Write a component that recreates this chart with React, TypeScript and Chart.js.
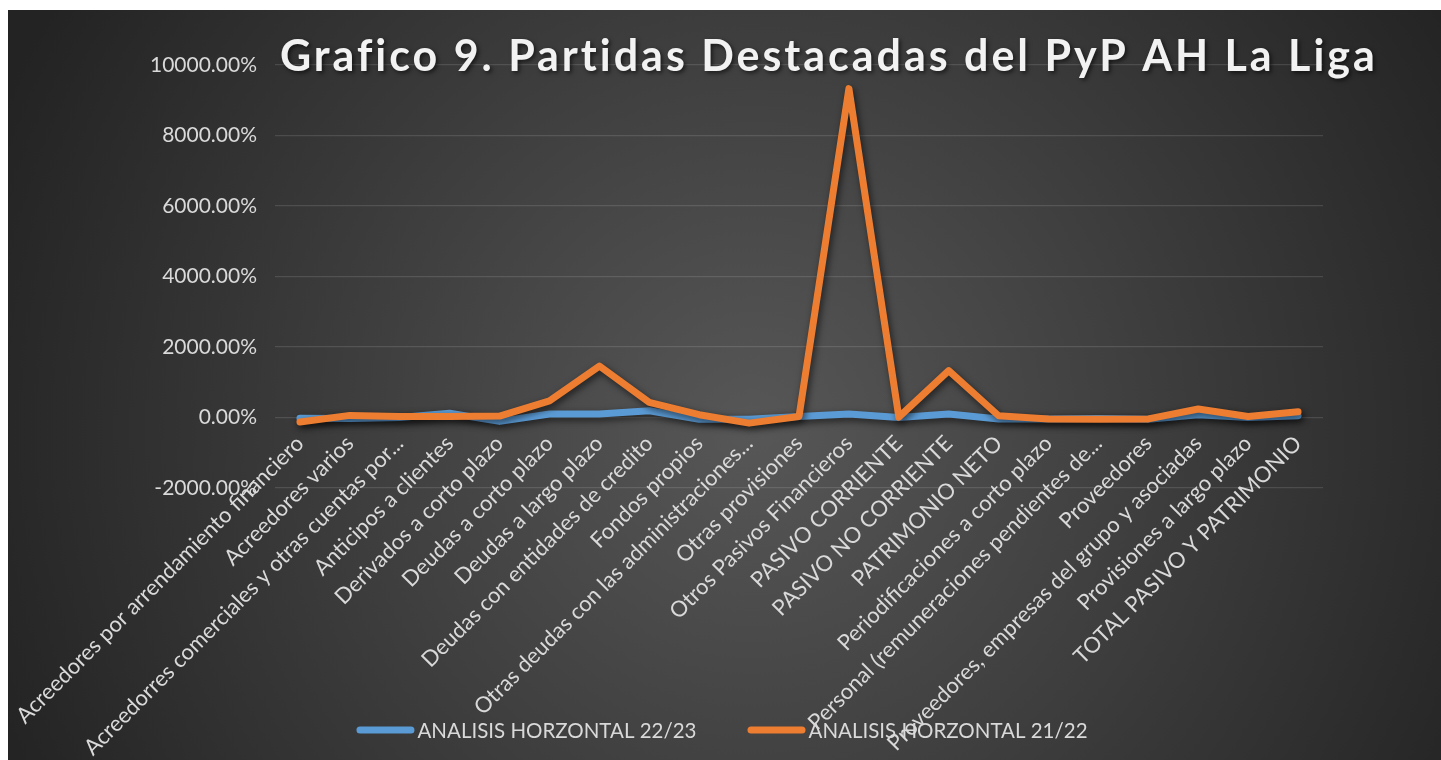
import React, { useEffect, useRef } from "react";
import { Chart, registerables } from "chart.js";
Chart.register(...registerables);

const titleText = "Grafico 9. Partidas Destacadas del PyP AH La Liga";

const categories = [
  "Acreedores por arrendamiento financiero",
  "Acreedores varios",
  "Acreedorres comerciales y otras cuentas por...",
  "Anticipos a clientes",
  "Derivados a corto plazo",
  "Deudas a corto plazo",
  "Deudas a largo plazo",
  "Deudas con entidades de credito",
  "Fondos propios",
  "Otras deudas con las administraciones...",
  "Otras provisiones",
  "Otros Pasivos Financieros",
  "PASIVO CORRIENTE",
  "PASIVO NO CORRIENTE",
  "PATRIMONIO NETO",
  "Periodificaciones a corto plazo",
  "Personal (remuneraciones pendientes de...",
  "Proveedores",
  "Proveedores, empresas del grupo y asociadas",
  "Provisiones a largo plazo",
  "TOTAL PASIVO Y PATRIMONIO",
];

const seriesNames = ["ANALISIS HORZONTAL 22/23", "ANALISIS HORZONTAL 21/22"];

const ah2223 = [-20, -30, 0, 120, -110, 100, 100, 190, -50, -50, 30, 100, 0, 100, -40, -40, -30, -50, 80, 0, 50];
const ah2122 = [-130, 60, 30, 30, 40, 470, 1460, 430, 80, -160, 30, 9330, 10, 1330, 50, -40, -50, -40, 240, 30, 160];

const yMin = -2000;
const yMax = 10000;
const yStep = 2000;

const seriesColors = ["#5b9bd5", "#ed7d31"];

const bgPlugin = {
  id: "bgGradient",
  beforeDraw(chart: any) {
    const { ctx, width, height } = chart;
    const cx = width * 0.52;
    const cy = height * 0.56;
    const r = 820;
    const g = ctx.createRadialGradient(cx, cy, 0, cx, cy, r);
    g.addColorStop(0, "#575757");
    g.addColorStop(1, "#232323");
    ctx.save();
    ctx.fillStyle = g;
    ctx.fillRect(0, 0, width, height);
    ctx.restore();
  },
};

const shadowPlugin = {
  id: "lineShadow",
  beforeDatasetsDraw(chart: any) {
    const ctx = chart.ctx;
    ctx.save();
    ctx.shadowColor = "rgba(0,0,0,0.6)";
    ctx.shadowBlur = 7;
    ctx.shadowOffsetX = 2;
    ctx.shadowOffsetY = 3;
  },
  afterDatasetsDraw(chart: any) {
    chart.ctx.restore();
  },
};

const titlePlugin = {
  id: "spacedTitle",
  afterDraw(chart: any) {
    const ctx = chart.ctx;
    ctx.save();
    ctx.font = "bold 43px Lato";
    ctx.fillStyle = "#f2f2f2";
    ctx.textAlign = "left";
    ctx.textBaseline = "alphabetic";
    (ctx as any).letterSpacing = "0px";
    const w0 = ctx.measureText(titleText).width;
    const ls = (1095 - w0) / (titleText.length - 1);
    (ctx as any).letterSpacing = ls + "px";
    ctx.shadowColor = "rgba(0,0,0,0.6)";
    ctx.shadowBlur = 4;
    ctx.shadowOffsetX = 2;
    ctx.shadowOffsetY = 2;
    ctx.fillText(titleText, 272, 61);
    ctx.restore();
  },
};

const legendPlugin = {
  id: "customLegend",
  afterDraw(chart: any) {
    const ctx = chart.ctx;
    const ds = chart.data.datasets;
    ctx.save();
    ctx.font = "20.5px Lato";
    ctx.textBaseline = "middle";
    const sw = 58;
    const gapText = 3;
    const gapItem = 51;
    const widths = ds.map((d: any) => ctx.measureText(d.label).width);
    const total = widths.reduce((a: number, b: number) => a + b, 0) + ds.length * (sw + gapText) + gapItem * (ds.length - 1);
    let x = 714 - total / 2;
    const y = 720;
    ds.forEach((d: any, i: number) => {
      ctx.strokeStyle = d.borderColor;
      ctx.lineWidth = 7;
      ctx.lineCap = "round";
      ctx.beginPath();
      ctx.moveTo(x + 3.5, y);
      ctx.lineTo(x + sw - 3.5, y);
      ctx.stroke();
      ctx.fillStyle = "#d9d9d9";
      ctx.fillText(d.label, x + sw + gapText, y + 1);
      x += sw + gapText + widths[i] + gapItem;
    });
    ctx.restore();
  },
};

export default function App() {
  const ref = useRef<HTMLCanvasElement | null>(null);
  useEffect(() => {
    if (!ref.current) return;
    Chart.defaults.font.family = "Lato";
    const chart = new Chart(ref.current, {
      type: "line",
      data: {
        labels: categories,
        datasets: [
          {
            label: seriesNames[0],
            data: ah2223,
            borderColor: seriesColors[0],
            backgroundColor: seriesColors[0],
            borderWidth: 7,
            pointRadius: 0,
            tension: 0,
            borderJoinStyle: "round",
            borderCapStyle: "round",
            order: 2,
          },
          {
            label: seriesNames[1],
            data: ah2122,
            borderColor: seriesColors[1],
            backgroundColor: seriesColors[1],
            borderWidth: 7,
            pointRadius: 0,
            tension: 0,
            borderJoinStyle: "round",
            borderCapStyle: "round",
            order: 1,
          },
        ],
      },
      options: {
        animation: false,
        responsive: true,
        maintainAspectRatio: false,
        layout: { padding: { top: 55, right: 118, bottom: 272, left: 0 } },
        plugins: {
          legend: { display: false },
          title: { display: false },
          tooltip: { enabled: false },
        },
        scales: {
          x: {
            type: "category",
            position: { y: 0 } as any,
            offset: true,
            grid: { display: false },
            border: { display: false },
            ticks: {
              color: "#d9d9d9",
              font: { size: 22 },
              autoSkip: false,
              maxRotation: 45,
              minRotation: 45,
              padding: 5,
            },
            afterFit(scale: any) {
              scale.paddingLeft = 0;
              scale.paddingRight = 0;
            },
          },
          y: {
            min: yMin,
            max: yMax,
            ticks: {
              stepSize: yStep,
              color: "#d9d9d9",
              font: { size: 21 },
              padding: 18,
              callback: (v: any) => Number(v).toFixed(2) + "%",
            },
            grid: { color: "rgba(255,255,255,0.12)", lineWidth: 1.3, drawTicks: false },
            border: { display: false },
            afterFit(scale: any) {
              scale.width = 267;
            },
          },
        },
      },
      plugins: [bgPlugin, shadowPlugin, titlePlugin, legendPlugin],
    });
    return () => chart.destroy();
  }, []);
  return (
    <div style={{ position: "fixed", left: 8, top: 10, width: 1433, height: 750 }}>
      <canvas ref={ref} />
    </div>
  );
}
